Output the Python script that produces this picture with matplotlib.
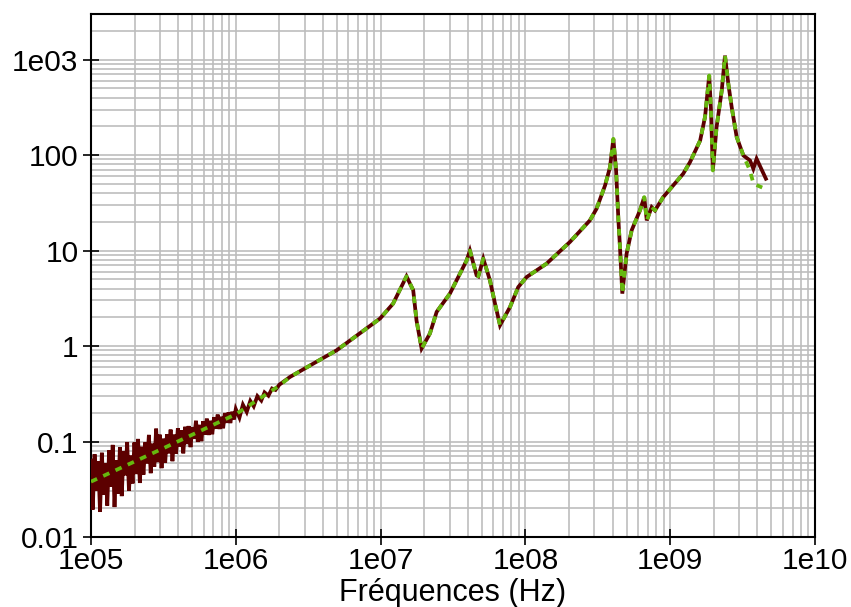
"""
Impédance mesurée vs modèle, en fonction de la fréquence (log-log).
Courbe marron : mesure (bruitée en basse fréquence).
Courbe verte pointillée : modèle.
"""
import matplotlib
matplotlib.use("Agg")
import matplotlib.pyplot as plt
from matplotlib.ticker import FixedLocator, FixedFormatter, LogLocator, NullFormatter

MARRON, VERT, GRILLE = "#5c0000", "#66b80f", "#bdbdbd"

# --- mesure, partie bruitée (1e5 .. 2e6 Hz)
freq_bruit = [1.000e5, 1.029e5, 1.059e5, 1.090e5, 1.122e5, 1.155e5, 1.189e5, 1.223e5,
              1.259e5, 1.296e5, 1.334e5, 1.372e5, 1.413e5, 1.454e5, 1.496e5, 1.540e5,
              1.585e5, 1.631e5, 1.679e5, 1.728e5, 1.778e5, 1.830e5, 1.884e5, 1.939e5,
              1.995e5, 2.054e5, 2.113e5, 2.175e5, 2.239e5, 2.304e5, 2.371e5, 2.441e5,
              2.512e5, 2.585e5, 2.661e5, 2.738e5, 2.818e5, 2.901e5, 2.985e5, 3.073e5,
              3.162e5, 3.255e5, 3.350e5, 3.447e5, 3.548e5, 3.652e5, 3.758e5, 3.868e5,
              3.981e5, 4.097e5, 4.217e5, 4.340e5, 4.467e5, 4.597e5, 4.732e5, 4.870e5,
              5.012e5, 5.158e5, 5.309e5, 5.464e5, 5.623e5, 5.788e5, 5.957e5, 6.131e5,
              6.310e5, 6.494e5, 6.683e5, 6.879e5, 7.079e5, 7.286e5, 7.499e5, 7.718e5,
              7.943e5, 8.175e5, 8.414e5, 8.660e5, 8.913e5, 9.173e5, 9.441e5, 9.716e5,
              1.000e6, 1.06e6, 1.12e6, 1.19e6, 1.26e6, 1.33e6, 1.41e6, 1.50e6,
              1.58e6, 1.68e6, 1.78e6, 1.88e6, 2.00e6]
mesure_bruit = [0.0631, 0.0194, 0.0737, 0.0306, 0.0624, 0.0183, 0.0763, 0.0276,
                0.0589, 0.0213, 0.0808, 0.0336, 0.0922, 0.0206, 0.0634, 0.0283,
                0.0871, 0.0268, 0.0789, 0.0443, 0.0988, 0.0304, 0.0712, 0.0364,
                0.0977, 0.0456, 0.1065, 0.0368, 0.0881, 0.0450, 0.0982, 0.0590,
                0.1174, 0.0466, 0.0949, 0.0545, 0.1364, 0.0608, 0.1181, 0.0526,
                0.1071, 0.0601, 0.1195, 0.0752, 0.1333, 0.0622, 0.1181, 0.0743,
                0.1380, 0.0888, 0.1310, 0.0752, 0.1428, 0.0941, 0.1453, 0.0873,
                0.1412, 0.1068, 0.1650, 0.0991, 0.1496, 0.1008, 0.1631, 0.1178,
                0.1737, 0.1171, 0.1650, 0.1191, 0.1798, 0.1360, 0.1915, 0.1352,
                0.1819, 0.1376, 0.1983, 0.1571, 0.2017, 0.1562, 0.2052, 0.1702,
                0.2187, 0.178, 0.243, 0.204, 0.266, 0.234, 0.299, 0.269,
                0.327, 0.302, 0.359, 0.347, 0.394]

# --- modèle, basse fréquence (lisse)
freq_modele_bas = [1.0e5, 3.16e5, 1.0e6, 2.0e6]
modele_bas = [0.038, 0.085, 0.193, 0.385]

# --- partie commune aux deux courbes
freq_commun = [2.37e6, 4.98e6, 9.91e6, 1.22e7, 1.51e7, 1.68e7, 1.77e7, 1.92e7, 2.19e7,
               2.44e7, 3.01e7, 3.93e7, 4.14e7, 4.60e7, 4.73e7, 5.12e7, 5.69e7, 6.17e7,
               6.68e7, 7.83e7, 8.93e7, 1.02e8, 1.40e8, 2.03e8, 2.79e8, 3.10e8, 3.55e8,
               3.84e8, 4.05e8, 4.23e8, 4.39e8, 4.50e8, 4.67e8, 5.00e8, 5.42e8, 6.18e8,
               6.62e8, 6.89e8, 7.45e8, 7.85e8, 8.95e8, 1.23e9, 1.37e9, 1.61e9, 1.74e9,
               1.86e9, 1.91e9, 1.97e9, 2.09e9, 2.27e9, 2.39e9, 2.52e9, 2.66e9, 2.88e9,
               3.20e9]
valeurs_commun = [0.475, 0.904, 1.94, 2.78, 5.37, 3.84, 1.86, 0.942, 1.35,
                  2.28, 3.54, 7.89, 10.0, 5.51, 5.37, 8.22, 4.88, 2.78,
                  1.65, 2.56, 4.15, 5.28, 7.29, 12.3, 20.7, 27.4, 48.1,
                  74.6, 148.0, 69.0, 20.7, 10.9, 3.54, 9.29, 16.3, 26.3,
                  36.3, 20.7, 28.5, 26.3, 36.3, 63.8, 84.3, 142.0, 251.0,
                  681.0, 316.0, 69.0, 196.0, 474.0, 1100.0, 557.0, 316.0, 154.0,
                  99.1]

# --- fins de courbe (elles divergent un peu)
freq_fin_mesure = [3.56e9, 3.75e9, 3.95e9, 4.58e9]
fin_mesure = [87.7, 71.9, 91.4, 56.5]
freq_fin_modele = [3.39e9, 3.55e9, 3.76e9, 4.32e9]
fin_modele = [81.3, 69.2, 50.1, 45.7]

ticks_x = [1e5, 1e6, 1e7, 1e8, 1e9, 1e10]
labels_x = ["1e05", "1e06", "1e07", "1e08", "1e09", "1e10"]
ticks_y = [0.01, 0.1, 1, 10, 100, 1000]
labels_y = ["0.01", "0.1", "1", "10", "100", "1e03"]

plt.rcParams["font.family"] = ["Liberation Sans", "DejaVu Sans"]

fig = plt.figure(figsize=(8.51, 6.07), dpi=100)
ax = fig.add_axes([0.1069, 0.1153, 0.8508, 0.8616])

f_mes = freq_bruit + freq_commun + freq_fin_mesure
v_mes = mesure_bruit + valeurs_commun + fin_mesure
f_mod = freq_modele_bas + freq_commun + freq_fin_modele
v_mod = modele_bas + valeurs_commun + fin_modele

ax.plot(f_mes, v_mes, color=MARRON, lw=2.7, solid_joinstyle="miter", zorder=3)
ax.plot(f_mod, v_mod, color=VERT, lw=2.7, dashes=(1.8, 1.8), zorder=4)

ax.set_xscale("log")
ax.set_yscale("log")
ax.set_xlim(1e5, 1e10)
ax.set_ylim(0.01, 3000)

ax.xaxis.set_major_locator(FixedLocator(ticks_x))
ax.xaxis.set_major_formatter(FixedFormatter(labels_x))
ax.yaxis.set_major_locator(FixedLocator(ticks_y))
ax.yaxis.set_major_formatter(FixedFormatter(labels_y))
for axe in (ax.xaxis, ax.yaxis):
    axe.set_minor_locator(LogLocator(base=10, subs=range(2, 10), numticks=20))
    axe.set_minor_formatter(NullFormatter())

ax.grid(True, which="both", color=GRILLE, lw=1.2)
ax.set_axisbelow(True)
ax.tick_params(which="major", direction="inout", length=12, width=1.2,
               labelsize=21.5, pad=1)
ax.tick_params(which="minor", length=0)
ax.tick_params(axis="y", pad=3)
for sp in ax.spines.values():
    sp.set_color("black")
    sp.set_linewidth(1.5)

ax.set_xlabel("Fréquences (Hz)", fontsize=22, labelpad=2)

fig.savefig("out.png", dpi=100)
plt.close(fig)
